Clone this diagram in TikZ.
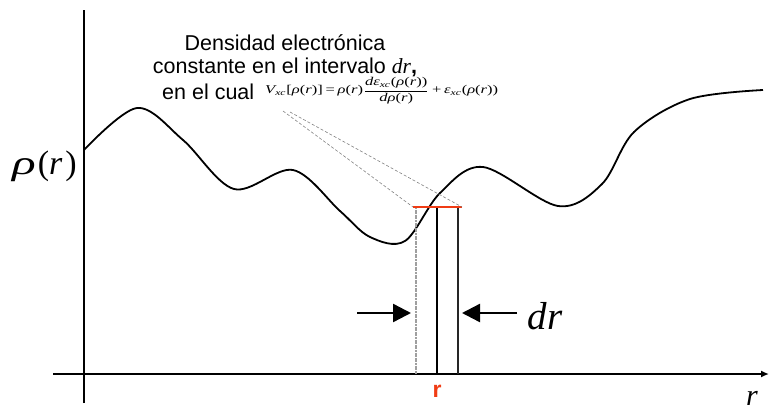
\documentclass[tikz,border=0pt]{standalone}
\usepackage{fontspec}
\usepackage{amsmath}
\usepackage{graphicx}
\setmainfont{Liberation Sans}
\newfontfamily\tms{Liberation Serif}
\newcommand\SR[1]{\text{\tms #1}}
\usetikzlibrary{arrows.meta}
\definecolor{redr}{RGB}{240,60,20}
\tikzset{
  axisline/.style={line width=1.8pt,black},
  curveline/.style={line width=1.8pt,black,line join=round},
  guide/.style={gray,line width=0.6pt,dash pattern=on 3pt off 2pt},
  bigarrow/.style={line width=2.4pt,-{Triangle[length=18pt,width=18pt]}},
  lbl/.style={inner sep=0pt,anchor=base},
}
\begin{document}
\begin{tikzpicture}[x=1pt,y=-1pt]
\useasboundingbox (0,0) rectangle (769,407);
% axes
\coordinate (yt) at (84,10);
\coordinate (yb) at (84,403);
\coordinate (xl) at (53,374);
\coordinate (xr) at (769,374);
\draw[axisline] (yb) -- (yt);
\draw[axisline,-{Latex[length=8pt,width=7pt]}] (xl) -- (xr);
% curve
\draw[curveline] plot[smooth,tension=0.55] coordinates {
 (84,150) (137,108) (183,140) (234,189) (293,170) (340,211) (370,237)
 (405,241) (440,193) (483,167) (558,206) (602,184) (634,132) (690,99) (763,90)};
% slab
\coordinate (rl) at (413,207);
\coordinate (rr) at (462,207);
\coordinate (lt) at (416,207);
\coordinate (lb) at (416,374);
\coordinate (mt) at (437,207);
\coordinate (mb) at (437,374);
\coordinate (tt) at (458,207);
\coordinate (tb) at (458,374);
\draw[gray!75,line width=1.4pt,dash pattern=on 2pt off 0.6pt] (lt) -- (lb);
\draw[black,line width=1.6pt] (mt) -- (mb);
\draw[black!85,line width=1.6pt] (tt) -- (tb);
\draw[redr,line width=2.8pt] (rl) -- (rr);
% guide lines
\coordinate (g1) at (283,111);
\coordinate (g2) at (290,112);
\draw[guide] (g1) -- (rl);
\draw[guide] (g2) -- (rr);
% arrows
\coordinate (a1s) at (357,313);
\coordinate (a1e) at (411,313);
\coordinate (a2s) at (517,313);
\coordinate (a2e) at (462,313);
\draw[bigarrow] (a1s) -- (a1e);
\draw[bigarrow] (a2s) -- (a2e);
% labels
\node[lbl] (dr) at (545,329) {\fontsize{39}{40}\selectfont\tms\itshape dr};
\node[lbl,anchor=base west] (rho) at (12,174) {\fontsize{34}{35}\selectfont\tms\itshape \scalebox{1.45}[1]{ρ}\kern2pt\upshape(\itshape r\upshape\kern3pt)};
\node[lbl,text=redr] (rred) at (437,397) {\fontsize{23}{24}\selectfont\bfseries r};
\node[lbl] (raxis) at (752,405) {\fontsize{30}{30}\selectfont\tms\itshape r};
\node[lbl] (t1) at (285,50) {\fontsize{21.5}{23}\selectfont Densidad electrónica};
\node[lbl] (t2) at (285,73) {\fontsize{21.5}{23}\selectfont constante en el intervalo {\tms\itshape dr}\textbf{,}};
\node[lbl,anchor=base west] (t3) at (162,99) {\fontsize{21.5}{23}\selectfont en el cual};
\node[inner sep=0pt,anchor=west] (eq) at (265,91) {\resizebox*{233pt}{27pt}{$\SR{\itshape V}_{\SR{\itshape xc}}\SR{[\textit{ρ}(\textit{r})]\,=\,\textit{ρ}(\textit{r})}\dfrac{\SR{\textit{dε}}_{\SR{\itshape xc}}\SR{(\textit{ρ}(\textit{r}))}}{\SR{\textit{dρ}(\textit{r})}}\SR{\,+\,\textit{ε}}_{\SR{\itshape xc}}\SR{(\textit{ρ}(\textit{r}))}$}};
\end{tikzpicture}
\end{document}
